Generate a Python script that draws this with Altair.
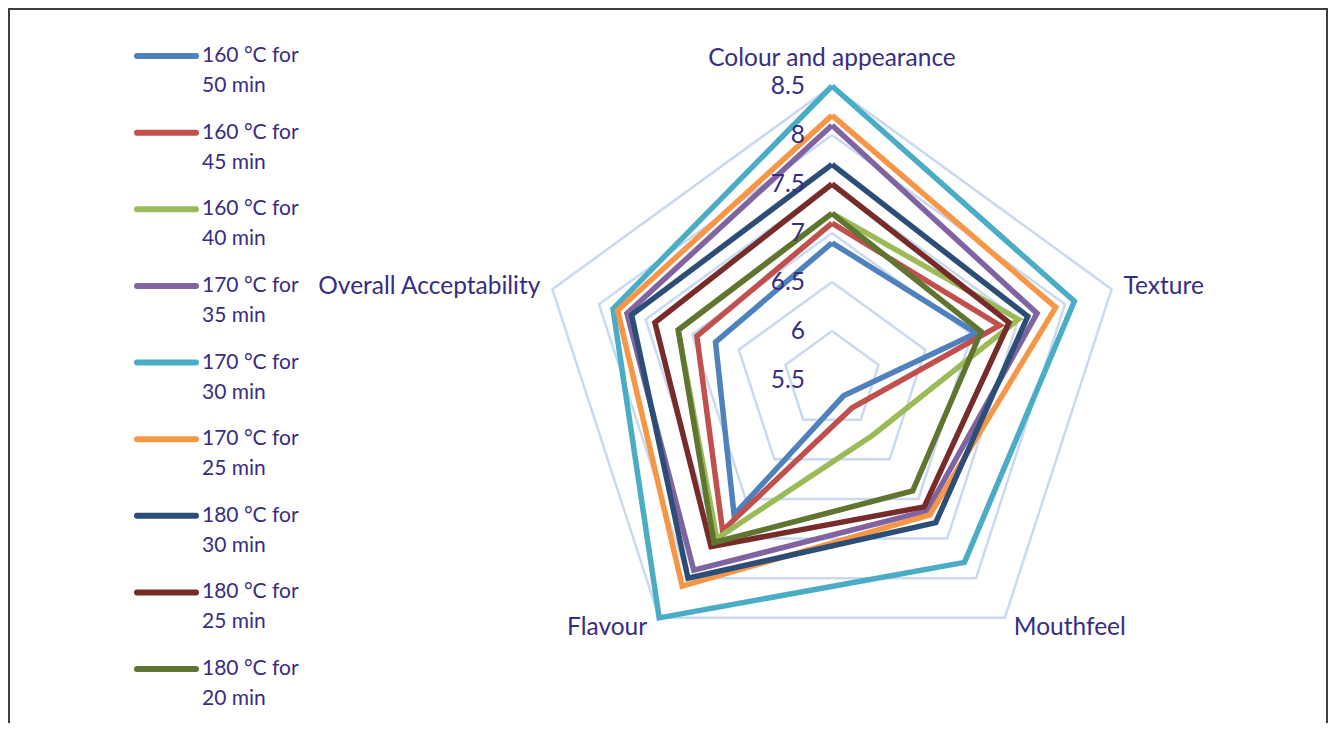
import altair as alt
import pandas as pd

# ---- data ----
axes_names = ["Colour and appearance", "Texture", "Mouthfeel", "Flavour", "Overall Acceptability"]
series_names = [
    "160 °C for 50 min", "160 °C for 45 min", "160 °C for 40 min",
    "170 °C for 35 min", "170 °C for 30 min", "170 °C for 25 min",
    "180 °C for 30 min", "180 °C for 25 min", "180 °C for 20 min",
]
series_colors = ["#4F81BD", "#C0504D", "#9BBB59", "#8064A2", "#4BACC6",
                 "#F79646", "#2C4D75", "#772C2A", "#5F7530"]
v_160_50 = [6.9, 7.05, 5.7, 7.2, 6.75]
v_160_45 = [7.1, 7.3, 5.85, 7.4, 6.95]
v_160_40 = [7.2, 7.5, 6.2, 7.5, 7.15]
v_170_35 = [8.1, 7.7, 7.15, 7.9, 7.7]
v_170_30 = [8.5, 8.1, 7.8, 8.5, 7.85]
v_170_25 = [8.2, 7.9, 7.2, 8.1, 7.8]
v_180_30 = [7.7, 7.6, 7.3, 8.0, 7.65]
v_180_25 = [7.5, 7.4, 7.1, 7.6, 7.4]
v_180_20 = [7.2, 7.1, 6.9, 7.55, 7.15]
series_values = [v_160_50, v_160_45, v_160_40, v_170_35, v_170_30,
                 v_170_25, v_180_30, v_180_25, v_180_20]
tick_values = [5.5, 6, 6.5, 7, 7.5, 8, 8.5]
tick_labels = ["5.5", "6", "6.5", "7", "7.5", "8", "8.5"]

R_MIN = tick_values[0]
R_SPAN = tick_values[-1] - tick_values[0]
N = len(axes_names)

TEXT_COLOR = "#372D82"
GRID_COLOR = "#C9DAF0"
FONT = "Lato"

# ---- tables built from the arrays ----
line_rows = []
for s_i, (s, vals) in enumerate(zip(series_names, series_values)):
    for k in range(N + 1):
        line_rows.append({"series": s, "k": k, "axis": k % N, "value": vals[k % N]})
lines_df = pd.DataFrame(line_rows)

grid_rows = []
for t in tick_values[1:]:
    for k in range(N + 1):
        grid_rows.append({"ring": t, "k": k, "axis": k % N, "value": t})
grid_df = pd.DataFrame(grid_rows)

tick_df = pd.DataFrame({"value": tick_values, "label": tick_labels, "axis": 0})
axis_df = pd.DataFrame({"name": axes_names, "axis": list(range(N)), "value": tick_values[-1]})
legend_df = pd.DataFrame({"series": series_names, "idx": list(range(len(series_names))),
                          "color": series_colors})

# ---- scales ----
xs = alt.Scale(domain=[-R_SPAN, R_SPAN], range=[530, 1118], nice=False, zero=False)
ys = alt.Scale(domain=[-R_SPAN, R_SPAN], range=[666, 78], nice=False, zero=False)
ls = alt.Scale(domain=[0, len(series_names) - 1], range=[48, 661], nice=False, zero=False)

ANG = f"PI/2 - datum.axis*2*PI/{N}"


def polar(ch):
    return ch.transform_calculate(
        ang=ANG,
        rr=f"datum.value - {R_MIN}",
    ).transform_calculate(
        px="datum.rr*cos(datum.ang)",
        py="datum.rr*sin(datum.ang)",
    )


X = alt.X("px:Q", scale=xs, axis=None)
Y = alt.Y("py:Q", scale=ys, axis=None)

layers = []

# frame (decoration)
frame_src = pd.DataFrame({"d": [0]})
layers.append(alt.Chart(frame_src).mark_rule(color="#404040", strokeWidth=2).encode(
    x=alt.value(1), y=alt.value(0), y2=alt.value(715)))
layers.append(alt.Chart(frame_src).mark_rule(color="#404040", strokeWidth=2).encode(
    x=alt.value(0), x2=alt.value(1320), y=alt.value(1)))
layers.append(alt.Chart(frame_src).mark_rule(color="#404040", strokeWidth=2).encode(
    x=alt.value(1319), y=alt.value(0), y2=alt.value(715)))

# grid pentagons
layers.append(polar(alt.Chart(grid_df)).mark_line(
    color=GRID_COLOR, strokeWidth=2.5, strokeJoin="miter").encode(
    x=X, y=Y, detail="ring:N", order="k:Q"))

# series lines
for s, c in zip(series_names, series_colors):
    layers.append(polar(alt.Chart(lines_df)).transform_filter(
        alt.datum.series == s).mark_line(
        color=c, strokeWidth=5.5, strokeJoin="miter").encode(
        x=X, y=Y, order="k:Q"))

# tick labels
layers.append(polar(alt.Chart(tick_df)).mark_text(
    align="right", baseline="middle", dx=-27, dy=1, fontSize=24.5, font=FONT, color=TEXT_COLOR).encode(
    x=X, y=Y, text="label:N"))

# category labels
label_style = [
    dict(align="center", dx=0, dy=-27),
    dict(align="left", dx=12, dy=-2),
    dict(align="left", dx=9, dy=10),
    dict(align="right", dx=-12, dy=10),
    dict(align="right", dx=-12, dy=-2),
]
for i, st in enumerate(label_style):
    layers.append(polar(alt.Chart(axis_df)).transform_filter(
        alt.datum.axis == i).mark_text(
        baseline="middle", fontSize=24.5, font=FONT, color=TEXT_COLOR, **st).encode(
        x=X, y=Y, text="name:N"))

# legend
LY = alt.Y("idx:Q", scale=ls, axis=None)
layers.append(alt.Chart(legend_df).mark_rule(strokeWidth=6, strokeCap="round").encode(
    x=alt.value(129), x2=alt.value(188), y=LY,
    color=alt.Color("color:N", scale=None)))
layers.append(alt.Chart(legend_df).transform_calculate(
    l1="slice(datum.series, 0, indexof(datum.series, ' for') + 4)").mark_text(
    align="left", baseline="middle", fontSize=21, font=FONT, color=TEXT_COLOR).encode(
    x=alt.value(194), y=LY, text="l1:N"))
layers.append(alt.Chart(legend_df).transform_calculate(
    l2="slice(datum.series, indexof(datum.series, ' for') + 5)").mark_text(
    align="left", baseline="middle", fontSize=21, font=FONT, color=TEXT_COLOR, dy=30).encode(
    x=alt.value(194), y=LY, text="l2:N"))

chart = alt.layer(*layers).resolve_scale(y="independent").properties(
    width=1320, height=715,
    autosize=alt.AutoSizeParams(type="none"),
    padding=0,
).configure_view(strokeWidth=0).configure(background="white")

chart.save("out.html", embed_options={"renderer": "svg", "actions": False})
